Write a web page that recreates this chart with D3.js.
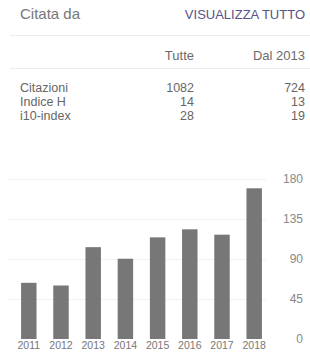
<!DOCTYPE html>
<html><head><meta charset="utf-8">
<script src="https://cdn.jsdelivr.net/npm/d3@7"></script>
<style>
html,body{margin:0;padding:0;background:#fff;}
svg{display:block;font-family:"Liberation Sans",Arial,sans-serif;}
</style></head>
<body>
<script>
const title = "Citata da";
const linkText = "VISUALIZZA TUTTO";
const colHeaders = ["Tutte", "Dal 2013"];
const rowLabels = ["Citazioni", "Indice H", "i10-index"];
const allValues = [1082, 14, 28];
const sinceValues = [724, 13, 19];
const years = ["2011","2012","2013","2014","2015","2016","2017","2018"];
const citations = [63, 60, 103, 90, 114, 123, 117, 169];
const yTicks = [0, 45, 90, 135, 180];

const W = 310, H = 354;
const svg = d3.select("body").append("svg").attr("width", W).attr("height", H);

// header
svg.append("text").attr("x", 20).attr("y", 19).attr("font-size", 15).attr("fill", "#777").text(title);
svg.append("text").attr("x", 305).attr("y", 19).attr("font-size", 13).attr("text-anchor", "end").attr("fill", "#57528a").text(linkText);
svg.append("line").attr("x1", 10).attr("x2", 310).attr("y1", 35.5).attr("y2", 35.5).attr("stroke", "#ececec");
svg.append("line").attr("x1", 10).attr("x2", 310).attr("y1", 68.5).attr("y2", 68.5).attr("stroke", "#ececec");

const colX = [194, 305];
colHeaders.forEach((h, i) => {
  svg.append("text").attr("x", colX[i]).attr("y", 60).attr("font-size", 13).attr("text-anchor", "end").attr("fill", "#6a6a6a").text(h);
});
const rowY = d3.scalePoint().domain(rowLabels).range([91.5, 119.5]);
rowLabels.forEach((r, i) => {
  const yy = rowY(r);
  svg.append("text").attr("x", 20).attr("y", yy).attr("font-size", 12.5).attr("fill", "#666").text(r);
  svg.append("text").attr("x", colX[0]).attr("y", yy).attr("font-size", 12.5).attr("text-anchor", "end").attr("fill", "#666").text(allValues[i]);
  svg.append("text").attr("x", colX[1]).attr("y", yy).attr("font-size", 12.5).attr("text-anchor", "end").attr("fill", "#666").text(sinceValues[i]);
});

// chart
const y = d3.scaleLinear().domain([0, 180]).range([339, 178.5]);
const x = d3.scaleBand().domain(years).range([12.7, 270.3]).paddingInner(0.52).paddingOuter(0.26);

svg.append("g").selectAll("line").data(yTicks.filter(d => d > 0)).join("line")
  .attr("x1", 8).attr("x2", 266)
  .attr("y1", d => Math.round(y(d)) + 0.5).attr("y2", d => Math.round(y(d)) + 0.5)
  .attr("stroke", "#f1f1f1");

svg.append("g").selectAll("rect").data(citations).join("rect")
  .attr("x", (d, i) => x(years[i]))
  .attr("width", x.bandwidth())
  .attr("y", d => y(d))
  .attr("height", d => y(0) - y(d))
  .attr("fill", "#777");

svg.append("g").selectAll("text").data(yTicks).join("text")
  .attr("x", 303).attr("y", d => y(d)).attr("dy", "0.35em")
  .attr("text-anchor", "end").attr("font-size", 12).attr("fill", "#888")
  .text(d => d);

svg.append("g").selectAll("text").data(years).join("text")
  .attr("x", d => x(d) + x.bandwidth() / 2).attr("y", 349)
  .attr("text-anchor", "middle").attr("font-size", 10.5).attr("fill", "#777")
  .text(d => d);
</script>
</body></html>
